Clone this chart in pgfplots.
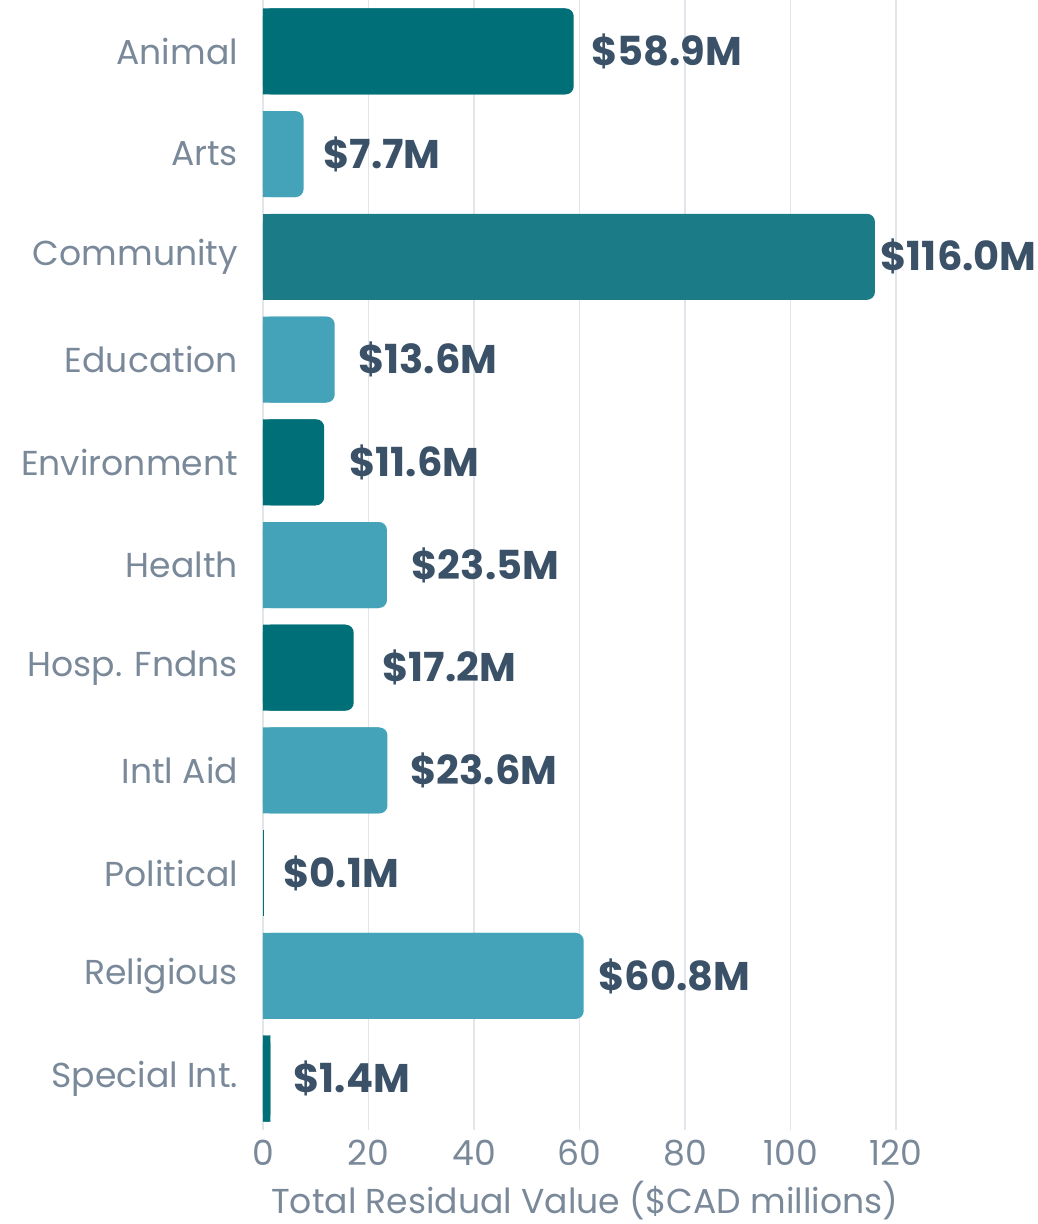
\documentclass[border=0pt]{standalone}
\usepackage{fontspec}
\setmainfont{Poppins}
\usepackage{pgfplots}
\pgfplotsset{compat=1.18}
\usepackage{pgfplotstable}
\definecolor{dark}{HTML}{006F78}
\definecolor{light}{HTML}{44A3B8}
\definecolor{comm}{HTML}{1B7B87}
\definecolor{lab}{HTML}{3A5168}
\definecolor{tick}{HTML}{7A8999}
\definecolor{gridc}{HTML}{E2E5E9}

% y = row (0 = top), v = value, s = square-cornered part (hides the left rounding)
\pgfplotstableread{
y v s
0 58.9 57.3
4 11.6 10.0
6 17.2 15.6
10 1.4 1.4
}\darkdata
\pgfplotstableread{
y v
8 0.1
}\poldata
\pgfplotstableread{
y v s
1 7.7 6.1
3 13.6 12.0
5 23.5 21.9
7 23.6 22.0
9 60.8 59.2
}\lightdata
\pgfplotstableread{
y v s
2 116.0 114.4
}\commdata
% label positions
\pgfplotstableread{
y x lab
0 62.1 {\$58.9M}
1 11.4 {\$7.7M}
2 117.0 {\$116.0M}
3 18.0 {\$13.6M}
4 16.3 {\$11.6M}
5 28.1 {\$23.5M}
6 22.6 {\$17.2M}
7 27.9 {\$23.6M}
8 3.8 {\$0.1M}
9 63.5 {\$60.8M}
10 5.7 {\$1.4M}
}\labels

\begin{document}
\begin{tikzpicture}
\begin{axis}[name=ax,
  scale only axis, width=321.8pt, height=565pt,
  xmin=0, xmax=122, ymin=-0.5, ymax=10.5, y dir=reverse,
  clip=false,
  axis line style={draw=none},
  major tick length=0pt,
  xtick={0,20,...,120}, ytick={0,...,10},
  yticklabels={Animal,Arts,Community,Education,Environment,Health,Hosp. Fndns,Intl Aid,Political,Religious,Special Int.},
  xmajorgrids, grid style={gridc, line width=0.6pt},
  tick label style={font=\fontsize{17.3}{19}\selectfont, text=tick},
  yticklabel style={xshift=-9pt},
  xticklabel style={yshift=-1.5pt},
  /pgf/number format/assume math mode=true,
  xlabel={Total Residual Value (\$CAD millions)},
  xlabel style={font=\fontsize{17.3}{19}\selectfont, text=tick, yshift=-0.8pt},
  bar width=43pt,
]
\addplot[xbar, bar shift=0pt, fill=dark, draw=none, rounded corners=4pt] table[x=v,y=y] {\darkdata};
\addplot[xbar, bar shift=0pt, fill=dark, draw=none] table[x=s,y=y] {\darkdata};
\addplot[xbar, bar shift=0pt, fill=dark, draw=none] table[x=v,y=y] {\poldata};
\addplot[xbar, bar shift=0pt, fill=light, draw=none, rounded corners=4pt] table[x=v,y=y] {\lightdata};
\addplot[xbar, bar shift=0pt, fill=light, draw=none] table[x=s,y=y] {\lightdata};
\addplot[xbar, bar shift=0pt, fill=comm, draw=none, rounded corners=4pt] table[x=v,y=y] {\commdata};
\addplot[xbar, bar shift=0pt, fill=comm, draw=none] table[x=s,y=y] {\commdata};
\addplot[draw=none, mark=none, nodes near coords, point meta=explicit symbolic,
  every node near coord/.style={anchor=west, inner sep=0pt, text=lab,
    font=\fontsize{20}{22}\bfseries\selectfont}]
  table[x=x,y=y,meta=lab] {\labels};
\end{axis}
\pgfresetboundingbox
\path (ax.north west) +(-131.5pt,0pt) coordinate (bl) +(387pt,-612pt) coordinate (tr);
\useasboundingbox (bl) rectangle (tr);
\end{tikzpicture}
\end{document}
